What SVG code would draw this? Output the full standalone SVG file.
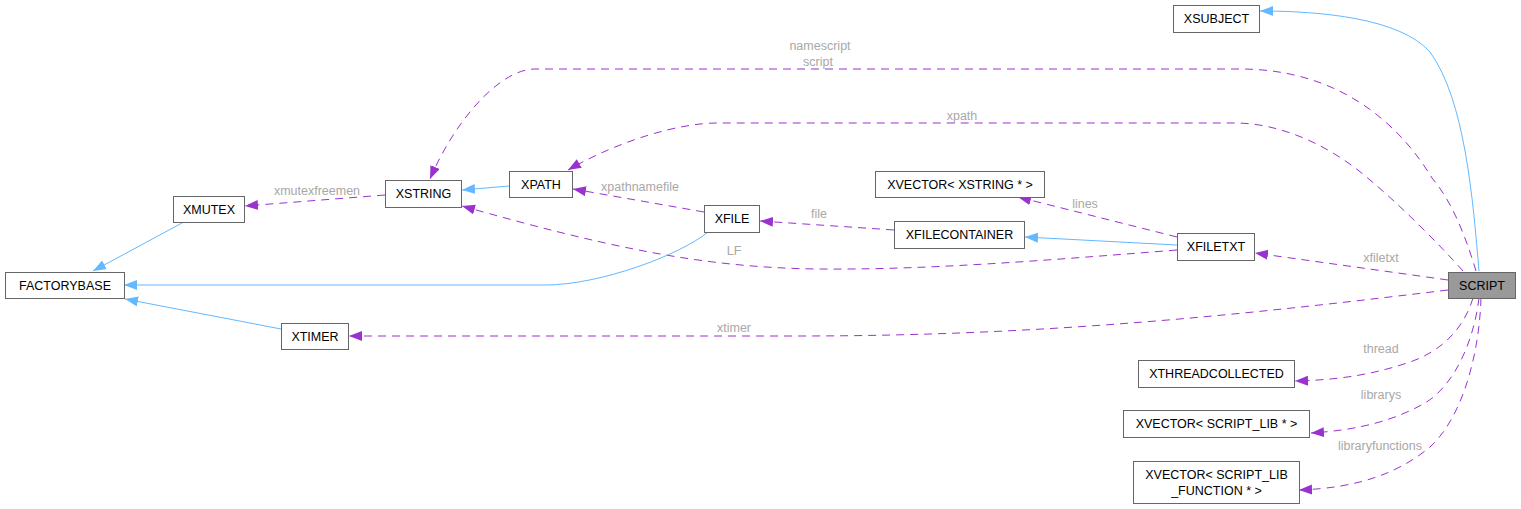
<svg xmlns="http://www.w3.org/2000/svg" width="1521" height="509" viewBox="0 0 1521 509">
<style>
.n rect{fill:#ffffff;stroke:#666666;stroke-width:1}
.n.main rect{fill:#999999}
.n text{font-family:"Liberation Sans",Arial,sans-serif;font-size:12.5px;fill:#000000;text-anchor:middle}
.e path{fill:none;stroke-width:1}
.e .inh{stroke:#63b8ff;marker-end:url(#ab)}
.e .use{stroke:#9a32cd;stroke-dasharray:8,6;marker-end:url(#ap)}
.lbl{font-family:"Liberation Sans",Arial,sans-serif;font-size:12.5px;fill:#a8a8a8;text-anchor:middle}
</style>
<defs>
<marker id="ab" markerUnits="userSpaceOnUse" markerWidth="14" markerHeight="11" refX="13" refY="5" orient="auto"><path d="M0,0 L13,5 L0,10 z" fill="#63b8ff"/></marker>
<marker id="ap" markerUnits="userSpaceOnUse" markerWidth="14" markerHeight="11" refX="13" refY="5" orient="auto"><path d="M0,0 L13,5 L0,10 z" fill="#9a32cd"/></marker>
</defs>
<rect width="1521" height="509" fill="#ffffff"/>
<g id="connectors" class="e">
<path class="inh" d="M1479,271 C1473,200 1465,100 1430,52 C1400,18 1320,11 1260,11"/>
<path class="use" d="M1476,271 C1468,245 1455,205 1432,178 C1400,125 1340,69 1240,69 L535,69 C500,69 455,120 430,179"/>
<path class="use" d="M1463,271 C1440,245 1400,205 1370,180 C1330,145 1280,123 1235,123 L717,123 C680,123 620,140 568,170"/>
<path class="inh" d="M509,186 L462,190"/>
<path class="use" d="M1177,250 C1050,260 930,270 820,269 C700,268 600,245 462,206"/>
<path class="use" d="M704,212 L573,189"/>
<path class="use" d="M894,230 L760,221"/>
<path class="inh" d="M1177,245 L1025,237"/>
<path class="use" d="M1177,237 L1018,197"/>
<path class="use" d="M1448,280 L1255,253"/>
<path class="use" d="M1448,290 C1250,314 1050,336 800,336 L349,336"/>
<path class="inh" d="M182,223 L93,271"/>
<path class="inh" d="M708,232 C680,255 600,285 545,285 L124,285"/>
<path class="inh" d="M281,329 L125,299"/>
<path class="use" d="M385,195 L245,206"/>
<path class="use" d="M1473,298 C1465,325 1445,350 1410,362 C1375,374 1340,380 1295,381"/>
<path class="use" d="M1479,298 C1474,340 1455,385 1425,403 C1395,420 1360,430 1311,433"/>
<path class="use" d="M1481,298 C1479,360 1460,420 1430,447 C1400,472 1360,488 1299,490"/>
<text class="lbl" x="820" y="50">namescript</text>
<text class="lbl" x="818" y="66">script</text>
<text class="lbl" x="962" y="120">xpath</text>
<text class="lbl" x="317" y="195">xmutexfreemen</text>
<text class="lbl" x="640" y="191">xpathnamefile</text>
<text class="lbl" x="819" y="218">file</text>
<text class="lbl" x="1085" y="208">lines</text>
<text class="lbl" x="734" y="255">LF</text>
<text class="lbl" x="1381" y="262">xfiletxt</text>
<text class="lbl" x="734" y="332">xtimer</text>
<text class="lbl" x="1381" y="353">thread</text>
<text class="lbl" x="1381" y="399">librarys</text>
<text class="lbl" x="1380" y="450">libraryfunctions</text>
</g>
<g id="XSUBJECT" class="n"><rect x="1173.5" y="5.5" width="86" height="27"/><text x="1216.5" y="23">XSUBJECT</text></g>
<g id="XSTRING" class="n"><rect x="385.5" y="180.5" width="76" height="27"/><text x="423.5" y="198">XSTRING</text></g>
<g id="XPATH" class="n"><rect x="509.5" y="171.5" width="63" height="26"/><text x="541" y="189">XPATH</text></g>
<g id="XMUTEX" class="n"><rect x="173.5" y="196.5" width="71" height="26"/><text x="209" y="214">XMUTEX</text></g>
<g id="FACTORYBASE" class="n"><rect x="5.5" y="272.5" width="119" height="26"/><text x="65" y="290">FACTORYBASE</text></g>
<g id="XTIMER" class="n"><rect x="281.5" y="323.5" width="67" height="26"/><text x="315" y="341">XTIMER</text></g>
<g id="XFILE" class="n"><rect x="704.5" y="205.5" width="55" height="27"/><text x="732" y="223">XFILE</text></g>
<g id="XVECTOR_XSTRING" class="n"><rect x="875.5" y="171.5" width="169" height="26"/><text x="960" y="189">XVECTOR&lt; XSTRING * &gt;</text></g>
<g id="XFILECONTAINER" class="n"><rect x="894.5" y="221.5" width="130" height="27"/><text x="959.5" y="239">XFILECONTAINER</text></g>
<g id="XFILETXT" class="n"><rect x="1177.5" y="233.5" width="77" height="27"/><text x="1216" y="251">XFILETXT</text></g>
<g id="SCRIPT" class="n main"><rect x="1448.5" y="272.5" width="67" height="26"/><text x="1482" y="290">SCRIPT</text></g>
<g id="XTHREADCOLLECTED" class="n"><rect x="1138.5" y="360.5" width="156" height="27"/><text x="1216.5" y="378">XTHREADCOLLECTED</text></g>
<g id="XVECTOR_SCRIPT_LIB" class="n"><rect x="1123.5" y="410.5" width="186" height="27"/><text x="1216.5" y="428">XVECTOR&lt; SCRIPT_LIB * &gt;</text></g>
<g id="XVECTOR_SCRIPT_LIB_FUNCTION" class="n"><rect x="1133.5" y="461.5" width="166" height="42"/><text x="1216.5" y="478.5">XVECTOR&lt; SCRIPT_LIB</text><text x="1216.5" y="494.5">_FUNCTION * &gt;</text></g>
</svg>
